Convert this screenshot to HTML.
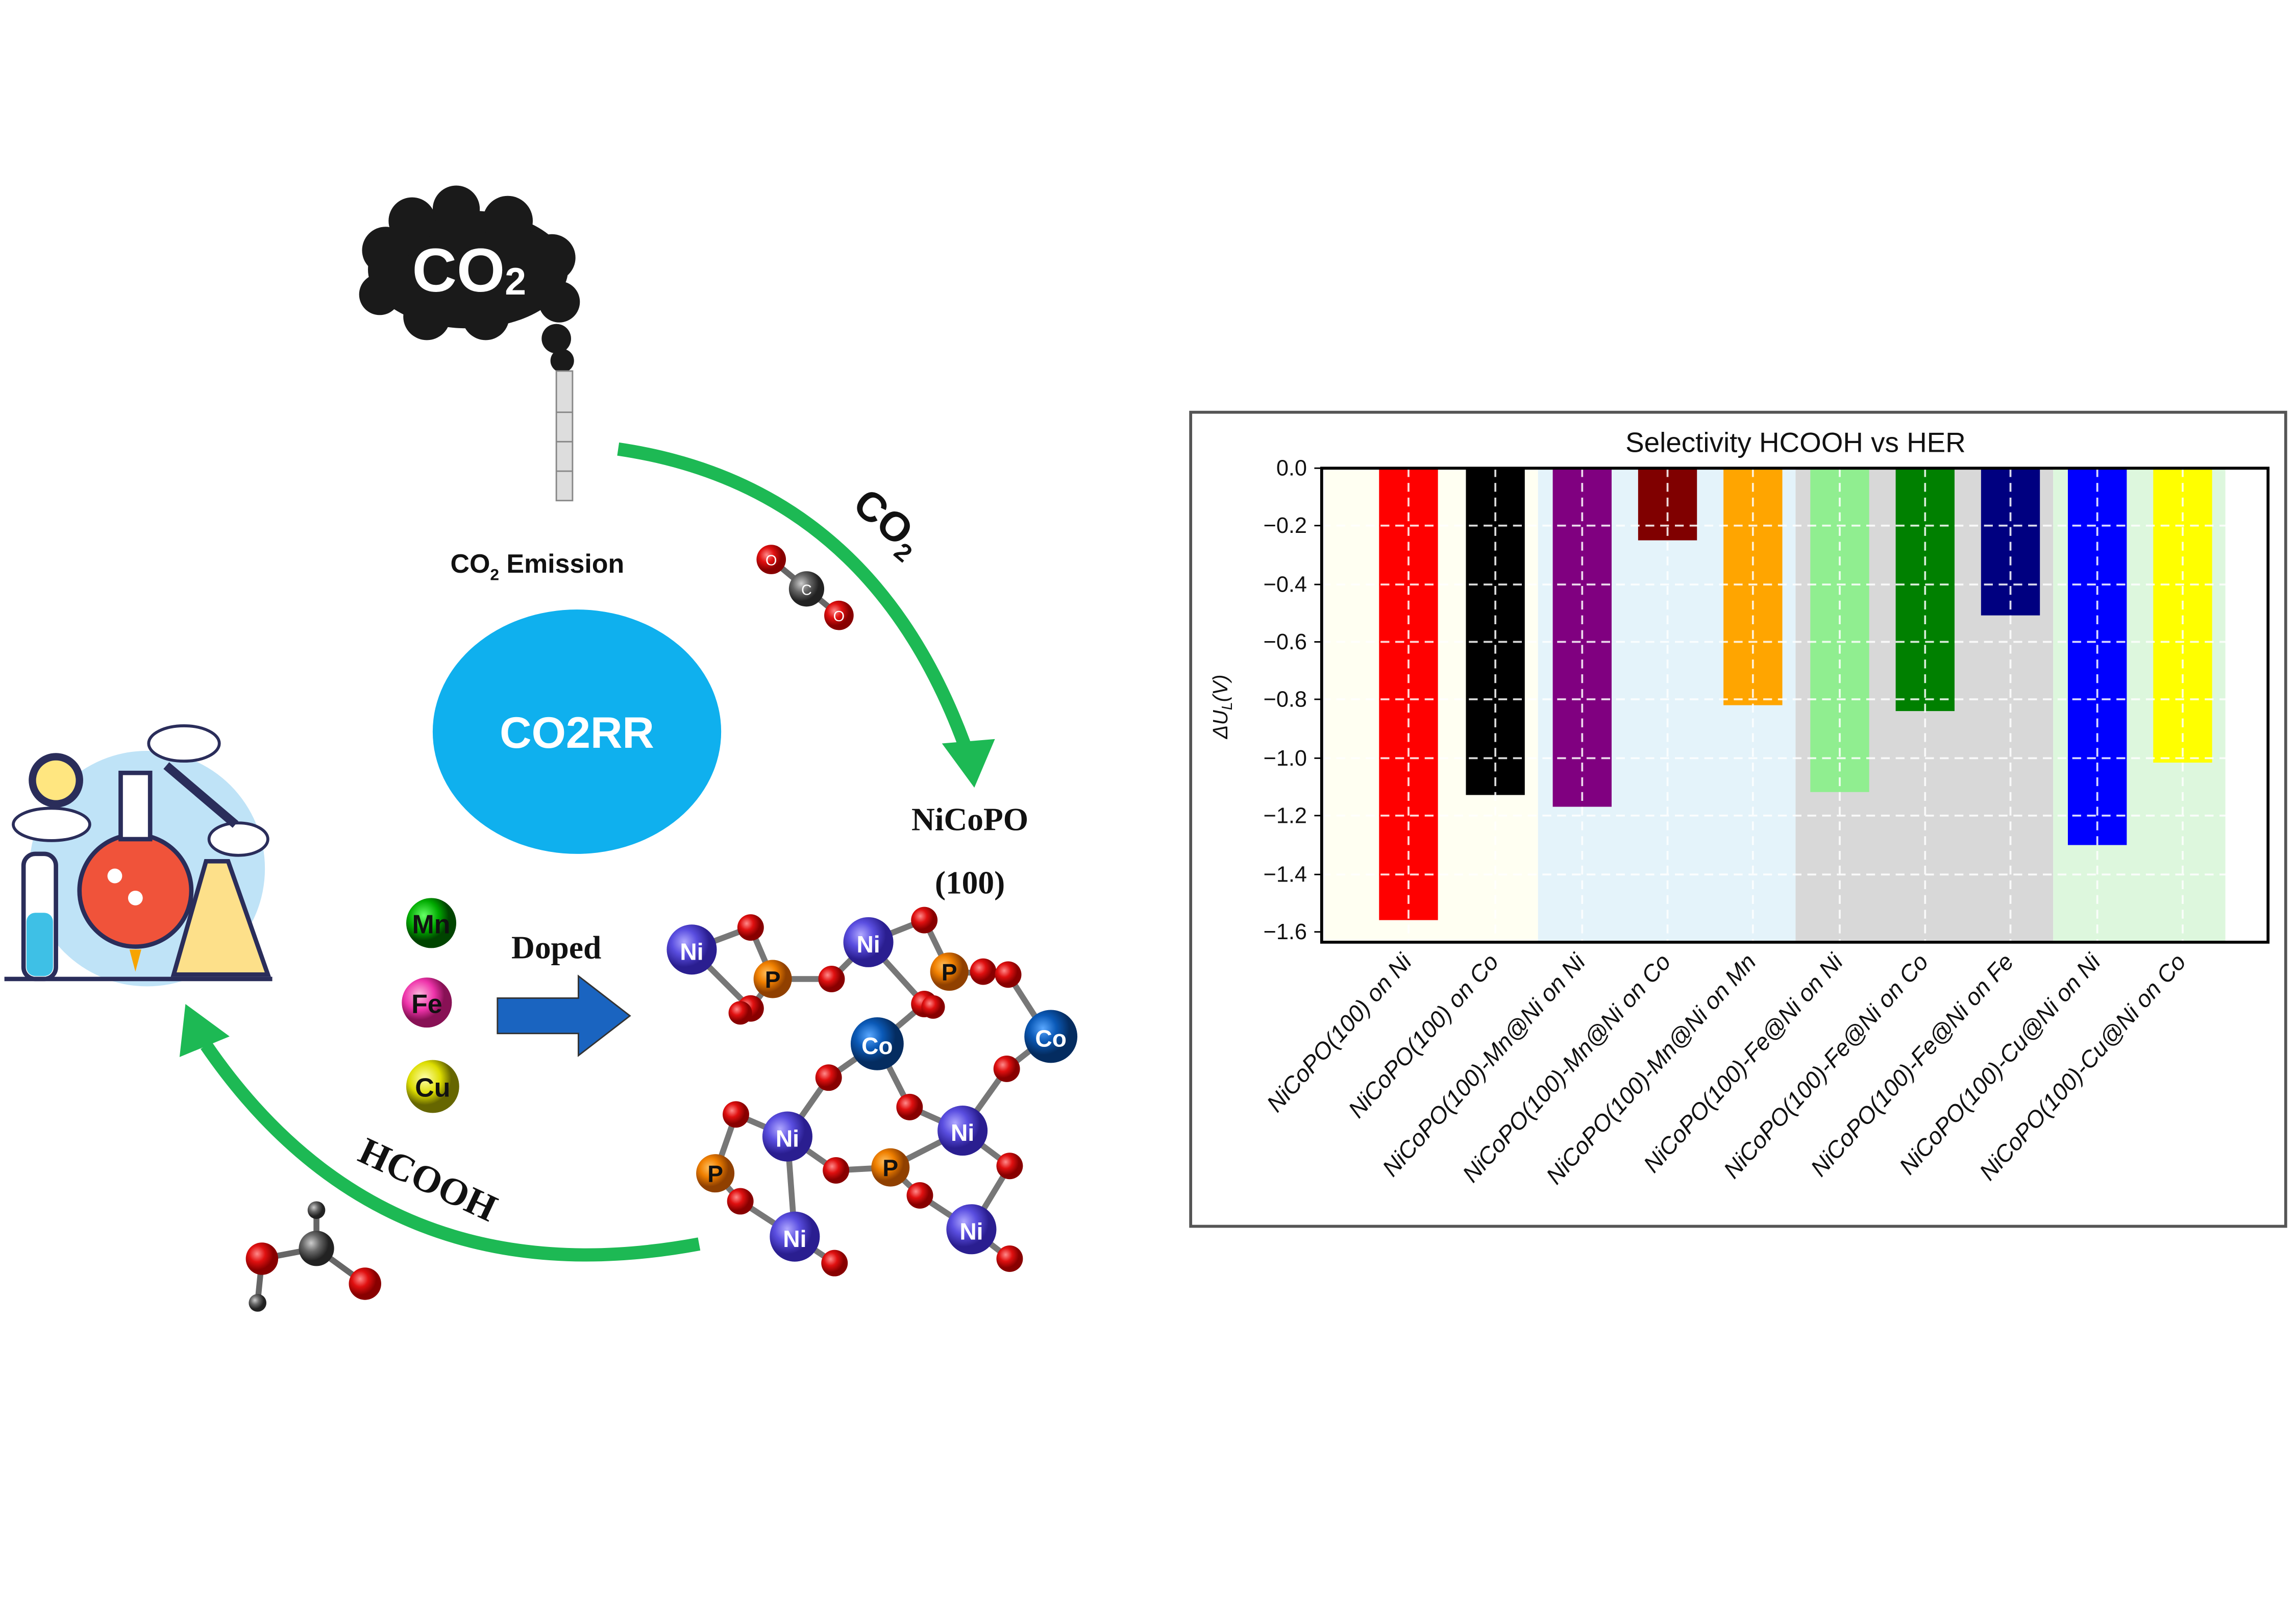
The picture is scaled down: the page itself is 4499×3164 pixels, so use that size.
<!DOCTYPE html>
<html><head><meta charset="utf-8"><style>html,body{margin:0;padding:0;background:#fff}svg{display:block}</style></head>
<body>
<svg width="4499" height="3164" viewBox="0 0 1560 1097" xmlns="http://www.w3.org/2000/svg" font-family="Liberation Sans, sans-serif">
<defs>
<radialGradient id="gO" cx="35%" cy="35%"><stop offset="0" stop-color="#ff8a8a"/><stop offset="0.5" stop-color="#e01010"/><stop offset="1" stop-color="#800"/></radialGradient>
<radialGradient id="gNi" cx="35%" cy="35%"><stop offset="0" stop-color="#b0a8ff"/><stop offset="0.5" stop-color="#5a4ee0"/><stop offset="1" stop-color="#2a1e90"/></radialGradient>
<radialGradient id="gCo" cx="35%" cy="35%"><stop offset="0" stop-color="#5aa8ff"/><stop offset="0.5" stop-color="#0b5ab8"/><stop offset="1" stop-color="#042c60"/></radialGradient>
<radialGradient id="gP" cx="35%" cy="35%"><stop offset="0" stop-color="#ffc060"/><stop offset="0.5" stop-color="#f08000"/><stop offset="1" stop-color="#904000"/></radialGradient>
<radialGradient id="gC" cx="35%" cy="35%"><stop offset="0" stop-color="#ccc"/><stop offset="0.5" stop-color="#666"/><stop offset="1" stop-color="#222"/></radialGradient>
<radialGradient id="gMn" cx="35%" cy="35%"><stop offset="0" stop-color="#6f6"/><stop offset="0.6" stop-color="#0a0"/><stop offset="1" stop-color="#040"/></radialGradient>
<radialGradient id="gFe" cx="35%" cy="35%"><stop offset="0" stop-color="#fbd"/><stop offset="0.6" stop-color="#e3a"/><stop offset="1" stop-color="#815"/></radialGradient>
<radialGradient id="gCu" cx="35%" cy="35%"><stop offset="0" stop-color="#ffa"/><stop offset="0.6" stop-color="#dd0"/><stop offset="1" stop-color="#660"/></radialGradient>
</defs>

<g fill="#1a1a1a">
<ellipse cx="318" cy="183" rx="68" ry="40"/>
<circle cx="262" cy="170" r="16"/><circle cx="280" cy="150" r="16"/><circle cx="310" cy="142" r="16"/>
<circle cx="345" cy="150" r="17"/><circle cx="375" cy="175" r="16"/><circle cx="380" cy="205" r="14"/>
<circle cx="258" cy="200" r="14"/><circle cx="290" cy="215" r="16"/><circle cx="330" cy="215" r="16"/>
<circle cx="378" cy="230" r="10"/><circle cx="382" cy="245" r="8"/>
</g>
<text x="280" y="198" font-size="42" font-weight="bold" fill="#fff">CO</text><text x="343" y="200" font-size="26" font-weight="bold" fill="#fff">2</text>
<rect x="378" y="252" width="11" height="88" fill="#ddd" stroke="#888" stroke-width="1"/>
<line x1="378" y1="280" x2="389" y2="280" stroke="#888"/><line x1="378" y1="300" x2="389" y2="300" stroke="#888"/><line x1="378" y1="320" x2="389" y2="320" stroke="#888"/>

<text x="306" y="389" font-size="18" font-weight="bold" fill="#111">CO<tspan font-size="11" dy="5">2</tspan><tspan dy="-5"> Emission</tspan></text>

<ellipse cx="392" cy="497" rx="98" ry="83" fill="#0fb0ee"/>
<text x="392" y="508" font-size="30" font-weight="bold" fill="#fff" text-anchor="middle">CO2RR</text>

<path d="M420 305 Q590 330 655 505" fill="none" stroke="#1db954" stroke-width="9"/>
<polygon points="640,505 676,502 662,535" fill="#1db954"/>
<path d="M475 845 Q260 885 140 710" fill="none" stroke="#1db954" stroke-width="9"/>
<polygon points="122,718 126,682 156,704" fill="#1db954"/>

<text x="0" y="0" font-size="28" font-weight="bold" fill="#111" transform="translate(578,345) rotate(40)">CO<tspan font-size="17" dy="6">2</tspan></text>
<text x="0" y="0" font-family="Liberation Serif, serif" font-size="26" font-weight="bold" fill="#111" transform="translate(242,788) rotate(25)">HCOOH</text>

<line x1="524" y1="380" x2="570" y2="418" stroke="#666" stroke-width="4"/>
<circle cx="524" cy="380" r="10" fill="url(#gO)"/><circle cx="548" cy="400" r="12" fill="url(#gC)"/><circle cx="570" cy="418" r="10" fill="url(#gO)"/>
<text x="524" y="384" font-size="10" fill="#fff" text-anchor="middle">O</text><text x="548" y="404" font-size="10" fill="#fff" text-anchor="middle">C</text><text x="570" y="422" font-size="10" fill="#fff" text-anchor="middle">O</text>

<g stroke="#666" stroke-width="4"><line x1="178" y1="855" x2="215" y2="848"/><line x1="215" y1="848" x2="248" y2="872"/><line x1="215" y1="848" x2="215" y2="822"/><line x1="178" y1="855" x2="175" y2="885"/></g>
<circle cx="178" cy="855" r="11" fill="url(#gO)"/><circle cx="215" cy="848" r="12" fill="url(#gC)"/><circle cx="248" cy="872" r="11" fill="url(#gO)"/>
<circle cx="215" cy="822" r="6" fill="url(#gC)"/><circle cx="175" cy="885" r="6" fill="url(#gC)"/>

<text x="659" y="564" font-family="Liberation Serif, serif" font-size="22" font-weight="bold" text-anchor="middle" fill="#111">NiCoPO</text>
<text x="659" y="607" font-family="Liberation Serif, serif" font-size="22" font-weight="bold" text-anchor="middle" fill="#111">(100)</text>

<circle cx="293" cy="627" r="17" fill="url(#gMn)"/><text x="293" y="634" font-size="18" font-weight="bold" text-anchor="middle" fill="#111">Mn</text>
<circle cx="290" cy="681" r="17" fill="url(#gFe)"/><text x="290" y="688" font-size="18" font-weight="bold" text-anchor="middle" fill="#111">Fe</text>
<circle cx="294" cy="738" r="18" fill="url(#gCu)"/><text x="294" y="745" font-size="18" font-weight="bold" text-anchor="middle" fill="#111">Cu</text>
<text x="378" y="651" font-family="Liberation Serif, serif" font-size="22" font-weight="bold" text-anchor="middle" fill="#111">Doped</text>
<polygon points="338,678 393,678 393,663 428,690 393,717 393,702 338,702" fill="#1a64c0" stroke="#333" stroke-width="1"/>

<g stroke="#777" stroke-width="4">
<line x1="470" y1="645" x2="510" y2="630"/><line x1="510" y1="630" x2="525" y2="665"/><line x1="470" y1="645" x2="510" y2="685"/><line x1="525" y1="665" x2="510" y2="685"/>
<line x1="525" y1="665" x2="565" y2="665"/><line x1="565" y1="665" x2="590" y2="640"/><line x1="590" y1="640" x2="628" y2="625"/><line x1="628" y1="625" x2="645" y2="660"/>
<line x1="590" y1="640" x2="628" y2="682"/><line x1="645" y1="660" x2="685" y2="662"/><line x1="685" y1="662" x2="712" y2="704"/>
<line x1="628" y1="682" x2="596" y2="709"/><line x1="596" y1="709" x2="563" y2="732"/><line x1="596" y1="709" x2="618" y2="752"/>
<line x1="712" y1="704" x2="684" y2="726"/><line x1="684" y1="726" x2="654" y2="768"/><line x1="563" y1="732" x2="535" y2="772"/>
<line x1="535" y1="772" x2="500" y2="757"/><line x1="535" y1="772" x2="568" y2="795"/><line x1="568" y1="795" x2="605" y2="793"/>
<line x1="618" y1="752" x2="654" y2="768"/><line x1="654" y1="768" x2="686" y2="792"/><line x1="686" y1="792" x2="660" y2="835"/>
<line x1="605" y1="793" x2="625" y2="812"/><line x1="625" y1="812" x2="660" y2="835"/><line x1="660" y1="835" x2="686" y2="855"/>
<line x1="486" y1="797" x2="503" y2="816"/><line x1="503" y1="816" x2="540" y2="840"/><line x1="540" y1="840" x2="567" y2="858"/><line x1="535" y1="772" x2="540" y2="840"/>
<line x1="486" y1="797" x2="500" y2="757"/><line x1="605" y1="793" x2="654" y2="768"/>
</g>
<g font-size="16" font-weight="bold" text-anchor="middle" fill="#111">
<circle cx="470" cy="645" r="17" fill="url(#gNi)"/><text x="470" y="652" fill="#fff">Ni</text>
<circle cx="590" cy="640" r="17" fill="url(#gNi)"/><text x="590" y="647" fill="#fff">Ni</text>
<circle cx="535" cy="772" r="17" fill="url(#gNi)"/><text x="535" y="779" fill="#fff">Ni</text>
<circle cx="654" cy="768" r="17" fill="url(#gNi)"/><text x="654" y="775" fill="#fff">Ni</text>
<circle cx="540" cy="840" r="17" fill="url(#gNi)"/><text x="540" y="847" fill="#fff">Ni</text>
<circle cx="660" cy="835" r="17" fill="url(#gNi)"/><text x="660" y="842" fill="#fff">Ni</text>
<circle cx="596" cy="709" r="18" fill="url(#gCo)"/><text x="596" y="716" fill="#fff">Co</text>
<circle cx="714" cy="704" r="18" fill="url(#gCo)"/><text x="714" y="711" fill="#fff">Co</text>
<circle cx="525" cy="665" r="13" fill="url(#gP)"/><text x="525" y="671">P</text>
<circle cx="645" cy="660" r="13" fill="url(#gP)"/><text x="645" y="666">P</text>
<circle cx="486" cy="797" r="13" fill="url(#gP)"/><text x="486" y="803">P</text>
<circle cx="605" cy="793" r="13" fill="url(#gP)"/><text x="605" y="799">P</text>
</g>
<g fill="url(#gO)">
<circle cx="510" cy="630" r="9"/><circle cx="510" cy="685" r="9"/><circle cx="503" cy="688" r="8"/><circle cx="565" cy="665" r="9"/><circle cx="628" cy="625" r="9"/>
<circle cx="628" cy="682" r="9"/><circle cx="634" cy="684" r="8"/><circle cx="668" cy="660" r="9"/><circle cx="685" cy="662" r="9"/><circle cx="684" cy="726" r="9"/>
<circle cx="563" cy="732" r="9"/><circle cx="618" cy="752" r="9"/><circle cx="500" cy="757" r="9"/><circle cx="568" cy="795" r="9"/>
<circle cx="686" cy="792" r="9"/><circle cx="503" cy="816" r="9"/><circle cx="625" cy="812" r="9"/><circle cx="567" cy="858" r="9"/><circle cx="686" cy="855" r="9"/>
</g>

<circle cx="100" cy="590" r="80" fill="#bfe3f7"/>
<g fill="#fff" stroke="#2a2d5a" stroke-width="2">
<ellipse cx="35" cy="560" rx="26" ry="11"/><ellipse cx="125" cy="505" rx="24" ry="12"/><ellipse cx="162" cy="570" rx="20" ry="11"/>
</g>
<circle cx="38" cy="530" r="16" fill="#ffe680" stroke="#2a2d5a" stroke-width="5"/>
<rect x="16" y="580" width="22" height="85" rx="8" fill="#fff" stroke="#2a2d5a" stroke-width="3"/>
<rect x="18" y="620" width="18" height="43" rx="6" fill="#3ec0e6"/>
<circle cx="92" cy="605" r="38" fill="#f0533a" stroke="#2a2d5a" stroke-width="3"/>
<rect x="82" y="525" width="20" height="45" fill="#fff" stroke="#2a2d5a" stroke-width="3"/>
<circle cx="78" cy="595" r="5" fill="#fff"/><circle cx="92" cy="610" r="5" fill="#fff"/>
<polygon points="140,585 155,585 182,662 118,662" fill="#fde08a" stroke="#2a2d5a" stroke-width="3"/>
<line x1="113" y1="520" x2="160" y2="560" stroke="#2a2d5a" stroke-width="6"/>
<line x1="3" y1="665" x2="185" y2="665" stroke="#2a2d5a" stroke-width="3"/>
<polygon points="88,645 96,645 92,660" fill="#f7a400"/>

<rect x="809" y="280" width="744" height="553" fill="#fff" stroke="#555" stroke-width="2"/>
<text x="1220" y="307" font-size="19" text-anchor="middle" fill="#111">Selectivity HCOOH vs HER</text>
<rect x="900" y="318" width="145" height="322" fill="#fffff2"/>
<rect x="1045" y="318" width="175" height="322" fill="#e4f3fa"/>
<rect x="1220" y="318" width="175" height="322" fill="#d8d8d8"/>
<rect x="1395" y="318" width="117" height="322" fill="#ddf7dd"/>
<g>
<rect x="937" y="318" width="40" height="307" fill="#ff0000"/>
<rect x="996" y="318" width="40" height="222" fill="#000000"/>
<rect x="1055" y="318" width="40" height="230" fill="#800080"/>
<rect x="1113" y="318" width="40" height="49" fill="#800000"/>
<rect x="1171" y="318" width="40" height="161" fill="#ffa500"/>
<rect x="1230" y="318" width="40" height="220" fill="#90ee90"/>
<rect x="1288" y="318" width="40" height="165" fill="#008000"/>
<rect x="1346" y="318" width="40" height="100" fill="#000080"/>
<rect x="1405" y="318" width="40" height="256" fill="#0000ff"/>
<rect x="1463" y="318" width="40" height="200" fill="#ffff00"/>
</g>
<g stroke="#fff" stroke-width="1.3" stroke-dasharray="6,4" opacity="0.85">
<line x1="898" y1="357" x2="1541" y2="357"/><line x1="898" y1="397" x2="1541" y2="397"/><line x1="898" y1="436" x2="1541" y2="436"/>
<line x1="898" y1="475" x2="1541" y2="475"/><line x1="898" y1="515" x2="1541" y2="515"/><line x1="898" y1="554" x2="1541" y2="554"/><line x1="898" y1="594" x2="1541" y2="594"/>
<line x1="957" y1="318" x2="957" y2="640"/><line x1="1016" y1="318" x2="1016" y2="640"/><line x1="1075" y1="318" x2="1075" y2="640"/><line x1="1133" y1="318" x2="1133" y2="640"/><line x1="1191" y1="318" x2="1191" y2="640"/>
<line x1="1250" y1="318" x2="1250" y2="640"/><line x1="1308" y1="318" x2="1308" y2="640"/><line x1="1366" y1="318" x2="1366" y2="640"/><line x1="1425" y1="318" x2="1425" y2="640"/><line x1="1483" y1="318" x2="1483" y2="640"/>
</g>
<rect x="898" y="318" width="643" height="322" fill="none" stroke="#000" stroke-width="2"/>
<g font-size="15" text-anchor="end" fill="#111">
<text x="888" y="323">0.0</text><text x="888" y="362">−0.2</text><text x="888" y="402">−0.4</text><text x="888" y="441">−0.6</text>
<text x="888" y="480">−0.8</text><text x="888" y="520">−1.0</text><text x="888" y="559">−1.2</text><text x="888" y="599">−1.4</text><text x="888" y="638">−1.6</text>
</g>
<g stroke="#000"><line x1="893" y1="318" x2="898" y2="318"/><line x1="893" y1="357" x2="898" y2="357"/><line x1="893" y1="397" x2="898" y2="397"/><line x1="893" y1="436" x2="898" y2="436"/><line x1="893" y1="475" x2="898" y2="475"/><line x1="893" y1="515" x2="898" y2="515"/><line x1="893" y1="554" x2="898" y2="554"/><line x1="893" y1="594" x2="898" y2="594"/><line x1="893" y1="633" x2="898" y2="633"/></g>
<text transform="translate(834,480) rotate(-90)" font-size="14" font-style="italic" text-anchor="middle" fill="#111">ΔU<tspan font-size="10" dy="3">L</tspan><tspan dy="-3">(V)</tspan></text>
<g font-size="16" font-style="italic" text-anchor="end" fill="#111">
<text transform="translate(960,654) rotate(-48)">NiCoPO(100) on Ni</text>
<text transform="translate(1019,654) rotate(-48)">NiCoPO(100) on Co</text>
<text transform="translate(1078,654) rotate(-48)">NiCoPO(100)-Mn@Ni on Ni</text>
<text transform="translate(1136,654) rotate(-48)">NiCoPO(100)-Mn@Ni on Co</text>
<text transform="translate(1194,654) rotate(-48)">NiCoPO(100)-Mn@Ni on Mn</text>
<text transform="translate(1253,654) rotate(-48)">NiCoPO(100)-Fe@Ni on Ni</text>
<text transform="translate(1311,654) rotate(-48)">NiCoPO(100)-Fe@Ni on Co</text>
<text transform="translate(1369,654) rotate(-48)">NiCoPO(100)-Fe@Ni on Fe</text>
<text transform="translate(1428,654) rotate(-48)">NiCoPO(100)-Cu@Ni on Ni</text>
<text transform="translate(1486,654) rotate(-48)">NiCoPO(100)-Cu@Ni on Co</text>
</g>
</svg>
</body></html>
